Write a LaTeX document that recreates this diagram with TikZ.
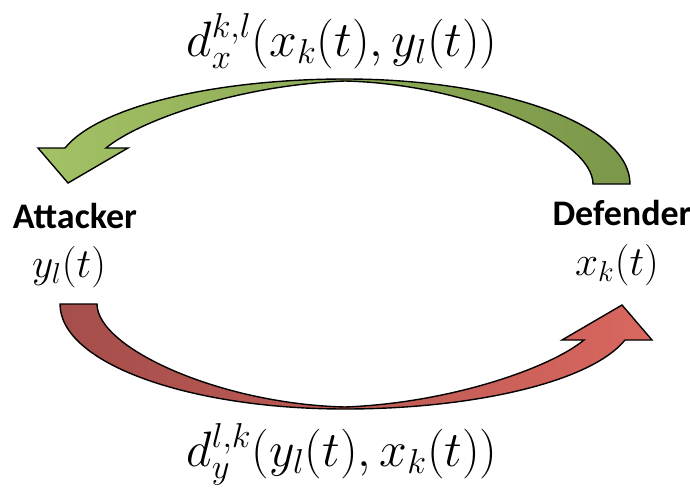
\documentclass[tikz,border=0pt]{standalone}
\usepackage{fontspec}
\newfontfamily\labelfont{Carlito}
\definecolor{cgreenl}{HTML}{A3C165}
\definecolor{cgreend}{HTML}{7B9749}
\definecolor{credl}{HTML}{D8675F}
\definecolor{credd}{HTML}{A54E4B}
\tikzset{
  every picture/.style={line width=0.7pt},
  bigarrow/.style={draw=black, line join=miter},
  player/.style={font=\labelfont\bfseries\fontsize{18}{20}\selectfont, anchor=base, inner sep=0pt},
  state/.style={font=\fontsize{20}{24}\selectfont, anchor=base, inner sep=0pt},
  payoff/.style={font=\fontsize{24}{28}\selectfont, anchor=base, inner sep=0pt},
}

\begin{document}
\begin{tikzpicture}[x=0.5pt, y=-0.5pt]
  \useasboundingbox (0,0) rectangle (690,487);
  % ---------------- defender -> attacker (green, over the top)
  \shade[bigarrow, left color=cgreenl, right color=cgreend]
    (630,184) .. controls (630,125) and (502,79) .. (345,79)
    .. controls (220,79) and (100,105) .. (65,148)
    -- (38,148) -- (68,183) -- (128,148) -- (106,148)
    .. controls (140,120) and (240,85) .. (345,81)
    .. controls (470,84) and (593,140) .. (593,184) -- cycle;
  % ---------------- attacker -> defender (red, under the bottom)
  \shade[bigarrow, left color=credd, right color=credl]
    (60,304) .. controls (60,363) and (188,409) .. (345,409)
    .. controls (470,409) and (590,383) .. (625,340)
    -- (652,340) -- (622,305) -- (562,340) -- (584,340)
    .. controls (550,368) and (450,403) .. (345,407)
    .. controls (220,404) and (97,348) .. (97,304) -- cycle;
  % ---------------- labels
  \node[payoff] (dx) at (342,56) {$d_x^{k,l}(x_k(t), y_l(t))$};
  \node[payoff] (dy) at (342,466) {$d_y^{l,k}(y_l(t), x_k(t))$};
  \node[player] (att) at (75,228) {Attacker};
  \node[state] (attv) at (69,277) {$y_l(t)$};
  \node[player] (def) at (622,225) {Defender};
  \node[state] (defv) at (617,275) {$x_k(t)$};
\end{tikzpicture}
\end{document}
